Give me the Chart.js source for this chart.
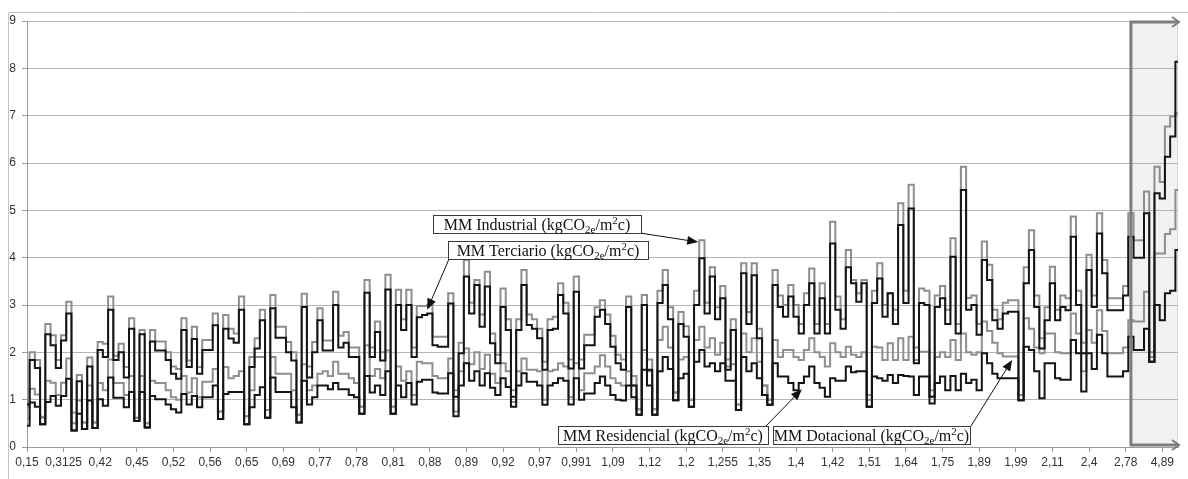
<!DOCTYPE html>
<html>
<head>
<meta charset="utf-8">
<script src="https://cdn.jsdelivr.net/npm/chart.js@4.4.0/dist/chart.umd.min.js"></script>
<style>
  html, body { margin: 0; padding: 0; background: #fff; }
  #wrap { position: relative; width: 1188px; height: 479px; }
</style>
</head>
<body>
<div id="wrap"><canvas id="chart" width="1188" height="479"></canvas></div>
<script>
// x tick labels, one every LABEL_EVERY categories
const tickLabels = ['0,15', '0,3125', '0,42', '0,45', '0,52', '0,56', '0,65', '0,69', '0,77', '0,78',
  '0,81', '0,88', '0,89', '0,92', '0,97', '0,991', '1,09', '1,12', '1,2', '1,255', '1,35', '1,4',
  '1,42', '1,51', '1,64', '1,75', '1,89', '1,99', '2,11', '2,4', '2,78', '4,89'];
const LABEL_EVERY = 7;

// MM Terciario (black, upper)
const terciario = [
  0.45, 1.84, 1.67, 0.48, 2.38, 2.15, 1.67, 2.25, 2.82, 0.35,
  1.39, 0.38, 1.7, 0.4, 2.05, 1.9, 2.9, 1.84, 2.0, 1.47,
  2.5, 0.55, 2.38, 0.41, 2.23, 2.04, 2.04, 1.84, 1.55, 1.44,
  2.47, 1.69, 2.28, 1.55, 2.05, 2.05, 2.57,
  0.59, 2.5, 2.29, 2.2, 2.9, 0.48, 1.69, 2.08, 2.68, 0.62,
  2.93, 2.31, 2.31, 2.0, 1.83, 0.52, 2.96, 1.47, 2.0, 2.68,
  2.04, 2.04, 3.0, 2.1, 2.2, 1.9, 1.9, 0.7, 3.26, 1.9,
  2.43, 1.83, 3.33, 0.7, 3.0, 2.47,
  3.0, 1.9, 2.74, 2.79, 2.82, 2.15, 2.12, 2.12, 3.03, 1.06,
  1.98, 3.6, 2.82, 3.42, 2.54, 3.39, 2.19, 1.77, 2.96, 2.47,
  1.06, 2.47, 3.42, 2.58, 2.5, 2.3, 1.63, 2.47, 2.5, 3.21,
  2.82, 1.66, 3.28, 1.66, 2.15, 2.15,
  2.75, 2.9, 2.6, 2.12, 1.77, 1.63, 2.96, 1.3, 0.68, 3.0,
  1.63, 0.68, 3.04, 3.42, 2.7, 0.99, 2.6, 2.33, 0.85, 3.0,
  3.99, 2.82, 3.6, 2.7, 3.14, 1.63, 2.47, 0.78, 3.67, 2.6,
  3.63, 2.3, 1.1, 0.89, 3.42, 2.96,
  2.75, 3.18, 2.75, 2.4, 3.0, 3.46, 2.4, 3.14, 2.4, 4.3,
  2.9, 2.5, 3.8, 3.46, 3.07, 3.46, 0.85, 3.04, 3.56, 2.75,
  3.25, 2.6, 4.69, 3.04, 5.04, 1.77, 3.04, 3.0, 1.06, 2.96,
  3.14, 2.6, 4.02, 2.4, 5.43, 2.9, 3.0,
  2.37, 3.95, 3.53, 2.68, 2.5, 2.82, 2.86, 2.86, 0.99, 3.46,
  4.16, 2.96, 2.08, 2.68, 3.46, 2.68, 2.96, 2.89, 4.44, 3.0,
  1.98, 3.74, 2.96, 4.51, 3.67, 2.89, 2.89, 2.89, 3.2, 4.44,
  4.0, 4.0, 4.94, 1.8, 5.36, 5.25, 6.13, 6.56, 8.14
];

// MM Industrial (grey, upper)
const industrial = [
  0.6, 2.0, 1.84, 0.64, 2.6, 2.36, 1.84, 2.36, 3.07, 0.73,
  1.52, 0.52, 1.89, 0.52, 2.22, 2.18, 3.18, 1.93, 2.18, 1.69,
  2.72, 0.62, 2.47, 0.5, 2.47, 2.23, 2.23, 2.0, 1.7, 1.65,
  2.72, 1.83, 2.54, 1.69, 2.26, 2.26, 2.82,
  0.75, 2.79, 2.5, 2.4, 3.18, 0.65, 1.9, 2.3, 2.9, 0.78,
  3.21, 2.54, 2.54, 2.22, 2.0, 0.68, 3.24, 1.7, 2.22, 2.93,
  2.25, 2.25, 3.28, 2.35, 2.43, 2.1, 2.1, 0.85, 3.53, 2.1,
  2.65, 2.0, 3.64, 0.85, 3.32, 2.7,
  3.32, 2.1, 2.98, 2.98, 3.0, 2.33, 2.33, 2.33, 3.25, 1.2,
  2.2, 3.95, 3.05, 3.53, 2.8, 3.7, 2.4, 1.95, 3.35, 2.7,
  1.2, 2.7, 3.74, 2.8, 2.7, 2.5, 1.8, 2.7, 2.75, 3.46,
  3.05, 1.85, 3.6, 1.85, 2.37, 2.37,
  2.95, 3.1, 2.8, 2.35, 1.95, 1.85, 3.18, 1.5, 0.8, 3.21,
  1.85, 0.8, 3.3, 3.74, 2.95, 1.15, 2.85, 2.55, 1.0, 3.3,
  4.37, 3.05, 3.8, 2.95, 3.4, 1.85, 2.7, 0.9, 3.88, 2.85,
  3.88, 2.5, 1.3, 1.0, 3.74, 3.2,
  3.0, 3.42, 3.0, 2.6, 3.25, 3.77, 2.6, 3.46, 2.6, 4.76,
  3.18, 2.7, 4.16, 3.53, 3.25, 3.53, 1.0, 3.3, 3.88, 3.0,
  3.25, 2.9, 5.15, 3.3, 5.54, 2.1, 3.35, 3.3, 1.2, 3.2,
  3.4, 2.9, 4.41, 2.6, 5.92, 3.15, 3.2,
  2.6, 4.34, 3.85, 2.9, 2.7, 3.05, 3.1, 3.1, 1.1, 3.8,
  4.58, 3.2, 2.3, 2.95, 3.81, 2.9, 3.2, 3.14, 4.87, 3.3,
  2.2, 4.06, 3.2, 4.94, 3.95, 3.14, 3.14, 3.14, 3.4, 4.94,
  4.37, 4.37, 5.4, 2.0, 5.92, 5.6, 6.77, 6.98, 7.05
];

// MM Residencial (black, lower)
const residencial = [
  0.9, 0.94, 0.85, 0.48, 0.95, 1.08, 0.87, 1.08, 1.44, 0.35,
  0.7, 0.38, 0.98, 0.4, 1.01, 0.87, 1.47, 1.04, 1.04, 0.84,
  1.16, 0.55, 1.16, 0.41, 1.08, 1.01, 1.01, 0.9, 0.8, 0.73,
  1.12, 0.9, 1.08, 0.84, 1.05, 1.05, 1.3,
  0.59, 1.12, 1.16, 1.16, 1.16, 0.48, 0.84, 1.1, 1.26, 0.62,
  1.47, 1.16, 1.16, 1.16, 0.84, 0.52, 1.4, 0.9, 1.05, 1.3,
  1.3, 1.22, 1.35, 1.22, 1.22, 1.1, 1.05, 0.7, 1.5, 1.15,
  1.3, 1.1, 1.6, 0.7, 1.3, 1.05,
  1.35, 0.9, 1.38, 1.42, 1.42, 1.15, 1.13, 1.13, 1.56, 0.65,
  1.3, 1.77, 1.4, 1.6, 1.3, 1.56, 1.25, 1.1, 1.45, 1.27,
  0.85, 1.3, 1.56, 1.38, 1.38, 1.3, 0.89, 1.3, 1.35, 1.45,
  1.4, 0.9, 1.45, 1.0, 1.13, 1.13,
  1.35, 1.49, 1.3, 1.1, 1.0, 0.98, 1.3, 1.05, 0.68, 1.63,
  1.3, 0.68, 1.6, 1.9, 1.65, 0.99, 1.45, 1.55, 0.85, 1.8,
  2.05, 1.7, 1.77, 1.6, 1.77, 1.4, 1.4, 0.78, 1.9, 1.6,
  1.77, 1.45, 1.1, 0.89, 1.77, 1.49,
  1.49, 1.35, 1.2, 1.35, 1.49, 1.7, 1.35, 1.25, 1.06, 1.45,
  1.4, 1.4, 1.7, 1.58, 1.6, 1.6, 0.85, 1.49, 1.45, 1.4,
  1.52, 1.35, 1.52, 1.5, 1.49, 1.1, 1.49, 1.49, 0.92, 1.35,
  1.49, 1.2, 1.5, 1.2, 1.55, 1.35, 1.42,
  1.2, 1.98, 1.77, 1.55, 1.45, 1.45, 1.45, 1.45, 0.99, 2.12,
  2.05, 1.6, 1.03, 1.77, 1.77, 1.45, 1.42, 1.42, 2.26, 1.98,
  1.17, 1.98, 1.65, 2.37, 1.98, 1.49, 1.49, 1.49, 1.6, 2.33,
  2.05, 2.05, 2.5, 1.8, 3.0, 2.68, 3.25, 3.3, 4.16
];

// MM Dotacional (grey, lower)
const dotacional = [
  0.84, 1.23, 1.11, 0.62, 1.4, 1.36, 1.1, 1.36, 1.87, 0.5,
  0.98, 0.52, 1.3, 0.52, 1.35, 1.2, 1.85, 1.35, 1.35, 1.1,
  1.5, 0.62, 1.5, 0.5, 1.4, 1.35, 1.35, 1.2, 1.05, 1.0,
  1.5, 1.15, 1.45, 1.05, 1.38, 1.38, 1.65,
  0.75, 1.69, 1.45, 1.5, 1.6, 0.65, 1.2, 1.9, 1.9, 0.78,
  1.9, 1.55, 1.55, 1.55, 1.2, 0.68, 1.75, 1.2, 1.3, 1.55,
  1.6, 1.5, 1.8, 1.55, 1.55, 1.45, 1.35, 0.85, 2.15, 1.5,
  1.65, 1.45, 2.04, 0.85, 1.7, 1.4,
  1.6, 1.1, 1.8, 1.77, 1.77, 1.5, 1.45, 1.45, 1.87, 0.75,
  1.6, 2.08, 1.75, 2.0, 1.65, 1.95, 1.55, 1.35, 1.77, 1.6,
  0.95, 1.6, 1.87, 1.63, 1.63, 1.6, 1.0, 1.6, 1.63, 1.77,
  1.7, 1.05, 1.77, 1.2, 1.56, 1.56,
  1.7, 1.94, 1.7, 1.45, 1.35, 1.3, 1.6, 1.3, 0.8, 2.05,
  1.6, 0.8, 2.26, 2.54, 2.1, 1.15, 1.85, 1.9, 1.0, 2.26,
  2.54, 2.1, 2.3, 1.95, 2.2, 1.7, 1.75, 0.9, 2.4, 2.0,
  2.3, 1.8, 1.3, 1.0, 2.26, 1.9,
  2.05, 2.05, 1.9, 1.84, 2.05, 2.3, 2.0, 1.9, 1.7, 2.19,
  2.0, 1.9, 2.12, 1.95, 1.9, 2.0, 1.1, 2.12, 2.1, 1.84,
  2.19, 1.84, 2.3, 1.84, 2.33, 1.84, 2.01, 2.01, 1.06, 1.9,
  2.0, 1.9, 2.26, 1.84, 2.4, 2.0, 1.95,
  2.0, 2.65, 2.45, 2.2, 1.98, 1.91, 1.91, 1.91, 1.1, 2.72,
  2.5, 2.1, 1.98, 2.4, 2.4, 2.0, 1.98, 1.98, 2.82, 2.4,
  1.6, 2.47, 2.2, 2.89, 2.45, 1.98, 1.98, 1.98, 2.1, 2.68,
  2.65, 2.65, 3.28, 1.9, 4.09, 4.09, 4.5, 4.6, 5.43
];

// shaded bracket on the right starts at this category
const BOX_FROM = 211;

// callout boxes (pixels) and arrow tips (category, value)
const notes = [
  { name: 'MM Industrial', box: [433, 215, 208, 18], from: [640, 233], tip: [128.3, 4.33] },
  { name: 'MM Terciario', box: [448, 241, 200, 18], from: [449, 259], tip: [76.5, 2.9] },
  { name: 'MM Residencial', box: [558, 426, 210, 18], from: [766, 426], tip: [148.1, 1.22] },
  { name: 'MM Dotacional', box: [773, 426, 197, 18], from: [971, 426], tip: [188.3, 1.84] },
];

const BLACK = '#141414';
const GREY = '#8e8e8e';
const AXIS = '#9a9a9a';

function arrow(ctx, x1, y1, x2, y2) {
  const a = Math.atan2(y2 - y1, x2 - x1);
  ctx.beginPath();
  ctx.moveTo(x1, y1);
  ctx.lineTo(x2 - 8 * Math.cos(a), y2 - 8 * Math.sin(a));
  ctx.stroke();
  ctx.beginPath();
  ctx.moveTo(x2, y2);
  ctx.lineTo(x2 - 11 * Math.cos(a) + 4.5 * Math.sin(a), y2 - 11 * Math.sin(a) - 4.5 * Math.cos(a));
  ctx.lineTo(x2 - 11 * Math.cos(a) - 4.5 * Math.sin(a), y2 - 11 * Math.sin(a) + 4.5 * Math.cos(a));
  ctx.closePath();
  ctx.fill();
}

function drawNote(ctx, n) {
  const [bx, by, bw, bh] = n.box;
  ctx.fillStyle = '#fff';
  ctx.fillRect(bx, by, bw, bh);
  ctx.strokeStyle = '#3a3a3a';
  ctx.lineWidth = 1;
  ctx.strokeRect(bx + 0.5, by + 0.5, bw, bh);
  const parts = [[n.name + ' (kgCO', 0], ['2e', 1], ['/m', 0], ['2', -1], ['c)', 0]];
  const big = '16px "Liberation Serif"';
  const small = '11px "Liberation Serif"';
  let total = 0;
  parts.forEach(([t, k]) => { ctx.font = k ? small : big; total += ctx.measureText(t).width; });
  let x = bx + (bw - total) / 2;
  const base = by + bh - 3;
  ctx.fillStyle = '#111';
  ctx.textBaseline = 'alphabetic';
  ctx.textAlign = 'left';
  parts.forEach(([t, k]) => {
    ctx.font = k ? small : big;
    ctx.fillText(t, x, base + (k === 1 ? 3 : k === -1 ? -6 : 0));
    x += ctx.measureText(t).width;
  });
}

const decorPlugin = {
  id: 'decor',
  beforeDraw(chart) {
    const { ctx, chartArea, scales } = chart;
    const x0 = scales.x.getPixelForValue(BOX_FROM);
    ctx.save();
    ctx.fillStyle = '#f1f1f1';
    ctx.fillRect(x0, chartArea.top, chartArea.right - x0, chartArea.bottom - chartArea.top - 2);
    ctx.strokeStyle = '#c4c4c4';
    ctx.lineWidth = 1;
    ctx.beginPath();
    ctx.moveTo(8.5, 479);
    ctx.lineTo(8.5, 12.5);
    ctx.lineTo(1188, 12.5);
    ctx.stroke();
    ctx.strokeStyle = '#d6d6d6';
    ctx.beginPath();
    ctx.moveTo(chartArea.right - 0.5, chartArea.top);
    ctx.lineTo(chartArea.right - 0.5, chartArea.bottom);
    ctx.stroke();
    ctx.restore();
  },
  afterDatasetsDraw(chart) {
    const { ctx, chartArea, scales } = chart;
    const x0 = scales.x.getPixelForValue(BOX_FROM);
    const top = chartArea.top + 1;
    const bot = chartArea.bottom - 2;
    const right = chartArea.right;
    ctx.save();
    // bracket frame
    ctx.strokeStyle = '#7d7d7d';
    ctx.lineWidth = 3;
    ctx.lineJoin = 'miter';
    ctx.beginPath();
    ctx.moveTo(right, top);
    ctx.lineTo(x0, top);
    ctx.lineTo(x0, bot);
    ctx.lineTo(right, bot);
    ctx.stroke();
    ctx.lineWidth = 2;
    [top, bot].forEach((yy) => {
      ctx.beginPath();
      ctx.moveTo(right - 6, yy - 5);
      ctx.lineTo(right + 1, yy);
      ctx.lineTo(right - 6, yy + 5);
      ctx.stroke();
    });
    // callouts
    ctx.strokeStyle = '#111';
    ctx.fillStyle = '#111';
    ctx.lineWidth = 1;
    notes.forEach((n) => {
      const tx = scales.x.getPixelForValue(n.tip[0]);
      const ty = scales.y.getPixelForValue(n.tip[1]);
      ctx.strokeStyle = '#111';
      ctx.fillStyle = '#111';
      arrow(ctx, n.from[0], n.from[1], tx, ty);
    });
    notes.forEach((n) => drawNote(ctx, n));
    ctx.restore();
  }
};

function lineSet(label, data, color) {
  return {
    label,
    data,
    borderColor: color,
    backgroundColor: color,
    borderWidth: 2,
    pointRadius: 0,
    stepped: 'middle',
    fill: false,
    borderJoinStyle: 'miter',
  };
}

const categories = terciario.map((_, i) => i);
const tickFont = { family: '"Liberation Sans", Arial, sans-serif', size: 12 };

new Chart(document.getElementById('chart'), {
  type: 'line',
  data: {
    labels: categories,
    datasets: [
      lineSet('MM Terciario (kgCO2e/m2c)', terciario, BLACK),
      lineSet('MM Residencial (kgCO2e/m2c)', residencial, BLACK),
      lineSet('MM Industrial (kgCO2e/m2c)', industrial, GREY),
      lineSet('MM Dotacional (kgCO2e/m2c)', dotacional, GREY),
    ],
  },
  options: {
    responsive: false,
    animation: false,
    events: [],
    layout: { padding: { top: 21, right: 10, left: 0, bottom: 0 } },
    plugins: {
      legend: { display: false },
      tooltip: { enabled: false },
    },
    scales: {
      x: {
        type: 'category',
        offset: false,
        grid: {
          drawOnChartArea: false,
          drawTicks: true,
          tickLength: 5,
          tickColor: (c) => (c.index % LABEL_EVERY === 0 ? AXIS : 'rgba(0,0,0,0)'),
        },
        border: { color: AXIS, width: 1 },
        ticks: {
          autoSkip: false,
          maxRotation: 0,
          minRotation: 0,
          padding: 3,
          color: '#333',
          font: tickFont,
          callback: (v, i) => (i % LABEL_EVERY === 0 ? tickLabels[i / LABEL_EVERY] : ''),
        },
        afterFit: (s) => { s.height = 32; },
      },
      y: {
        min: 0,
        max: 9,
        ticks: { stepSize: 1, padding: 6, color: '#333', font: tickFont },
        grid: { color: '#b5b5b5', tickLength: 5, tickColor: AXIS },
        border: { color: AXIS, width: 1 },
        afterFit: (s) => { s.width = 27; },
      },
    },
  },
  plugins: [decorPlugin],
});
</script>
</body>
</html>
